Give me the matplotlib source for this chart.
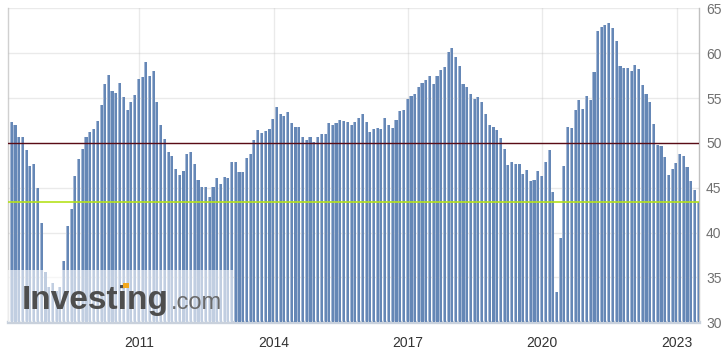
import matplotlib
matplotlib.use("Agg")
import matplotlib.pyplot as plt
import matplotlib.dates as mdates
from matplotlib.patches import Rectangle
import pandas as pd
import numpy as np

# Monthly PMI readings, Feb 2008 .. Jun 2023
values = [
    52.3, 52.0, 50.7, 50.6, 49.2, 47.4, 47.6, 45.0, 41.1, 35.6, 33.9,              # 2008 (Feb-Dec)
    34.4, 33.5, 33.9, 36.8, 40.7, 42.6, 46.3, 48.2, 49.3, 50.7, 51.2, 51.6,        # 2009
    52.4, 54.2, 56.6, 57.6, 55.8, 55.6, 56.7, 55.1, 53.7, 54.6, 55.3, 57.1,        # 2010
    57.3, 59.0, 57.5, 58.0, 54.6, 52.0, 50.4, 49.0, 48.5, 47.1, 46.4, 46.9,        # 2011
    48.8, 49.0, 47.7, 45.9, 45.1, 45.1, 44.0, 45.1, 46.1, 45.4, 46.2, 46.1,        # 2012
    47.9, 47.9, 46.8, 46.7, 48.3, 48.8, 50.3, 51.4, 51.1, 51.3, 51.6, 52.7,        # 2013
    54.0, 53.2, 53.0, 53.4, 52.2, 51.8, 51.8, 50.7, 50.3, 50.6, 50.1, 50.6,        # 2014
    51.0, 51.0, 52.2, 52.0, 52.2, 52.5, 52.4, 52.3, 52.0, 52.3, 52.8, 53.2,        # 2015
    52.3, 51.2, 51.6, 51.7, 51.5, 52.8, 52.0, 51.7, 52.6, 53.5, 53.7, 54.9,        # 2016
    55.2, 55.4, 56.2, 56.7, 57.0, 57.4, 56.6, 57.4, 58.1, 58.5, 60.1, 60.6,        # 2017
    59.6, 58.6, 56.6, 56.2, 55.5, 54.9, 55.1, 54.6, 53.2, 52.0, 51.8, 51.4,        # 2018
    50.5, 49.3, 47.5, 47.9, 47.7, 47.6, 46.5, 47.0, 45.7, 45.9, 46.9, 46.3,        # 2019
    47.9, 49.2, 44.5, 33.4, 39.4, 47.4, 51.8, 51.7, 53.7, 54.8, 53.8, 55.2,        # 2020
    54.8, 57.9, 62.5, 62.9, 63.1, 63.4, 62.8, 61.4, 58.6, 58.3, 58.4, 58.0,        # 2021
    58.7, 58.2, 56.5, 55.5, 54.6, 52.1, 49.8, 49.6, 48.4, 46.4, 47.1, 47.8,        # 2022
    48.8, 48.5, 47.3, 45.8, 44.8, 43.4,                                            # 2023
]
start_month = "2008-02-01"
tick_years = [2011, 2014, 2017, 2020, 2023]
y_ticks = [30, 35, 40, 45, 50, 55, 60, 65]
reference_level = 50

dates = pd.date_range(start_month, periods=len(values), freq="MS") + pd.Timedelta(days=24)
dnum = mdates.date2num(dates)

W, H = 725, 353
fig = plt.figure(figsize=(W / 100, H / 100), dpi=100)
ax_left, ax_right, ax_top, ax_bottom = 8, 699, 8.3, 322.3
ax = fig.add_axes([ax_left / W, (H - ax_bottom) / H, (ax_right - ax_left) / W, (ax_bottom - ax_top) / H])

light_w = 25.0
dark_w = 17.0
ax.bar(dnum, values, width=light_w, color="#a6b9d6", linewidth=0, zorder=2)
ax.bar(dnum + (light_w - dark_w) / 2, values, width=dark_w, color="#6587b6", linewidth=0, zorder=3)

ax.set_ylim(30, 65)
ax.set_xlim(mdates.date2num(pd.Timestamp("2008-01-28")), mdates.date2num(pd.Timestamp("2023-07-01")))

ax.set_xticks([mdates.date2num(pd.Timestamp(f"{y}-01-01")) for y in tick_years])
ax.set_xticklabels([str(y) for y in tick_years])
ax.set_yticks(y_ticks)
ax.set_yticklabels([str(v) for v in y_ticks])
ax.yaxis.tick_right()

ax.tick_params(axis="x", length=0, pad=10, labelsize=10, labelcolor="#333333")
ax.tick_params(axis="y", length=0, pad=5, labelsize=10, labelcolor="#707070")
for lab in ax.get_xticklabels() + ax.get_yticklabels():
    lab.set_fontfamily("Liberation Sans")

ax.grid(True, color="#c4c4c4", alpha=0.35, linewidth=1, zorder=4)
ax.set_axisbelow(False)
for line in ax.get_xgridlines() + ax.get_ygridlines():
    line.set_zorder(4)

ax.spines["top"].set_visible(False)
ax.spines["left"].set_color("#d0d0d0")
ax.spines["left"].set_linewidth(1)
ax.spines["right"].set_color("#c0c0c0")
ax.spines["right"].set_linewidth(1)
ax.spines["bottom"].set_color("#c9d1dc")
ax.spines["bottom"].set_linewidth(2.4)

ax.axhline(reference_level, color="#5a0c16", linewidth=1.0, zorder=6)
ax.axhline(values[-1], color="#b5e21c", linewidth=1.2, zorder=6)

# Watermark
ax.add_patch(Rectangle((0, 0), (233 - ax_left) / (ax_right - ax_left), (ax_bottom - 269.5) / (ax_bottom - ax_top),
                       transform=ax.transAxes, facecolor="white", alpha=0.6, edgecolor="none", zorder=7))
ax.text((21.5 - ax_left) / (ax_right - ax_left), (ax_bottom - 309.3) / (ax_bottom - ax_top), "Investing",
        transform=ax.transAxes, fontfamily="Liberation Sans", fontweight="bold", fontsize=24,
        color="#4e4e4e", va="baseline", ha="left", zorder=8)
ax.text((171 - ax_left) / (ax_right - ax_left), (ax_bottom - 309.3) / (ax_bottom - ax_top), ".com",
        transform=ax.transAxes, fontfamily="Liberation Sans", fontsize=17,
        color="#6a6a6a", va="baseline", ha="left", zorder=8)
ax.add_patch(Rectangle(((123.5 - ax_left) / (ax_right - ax_left), (ax_bottom - 288) / (ax_bottom - ax_top)),
                       5 / (ax_right - ax_left), 5 / (ax_bottom - ax_top),
                       transform=ax.transAxes, facecolor="#f3a81e", edgecolor="none", zorder=9))

fig.savefig("out.png", dpi=100)
